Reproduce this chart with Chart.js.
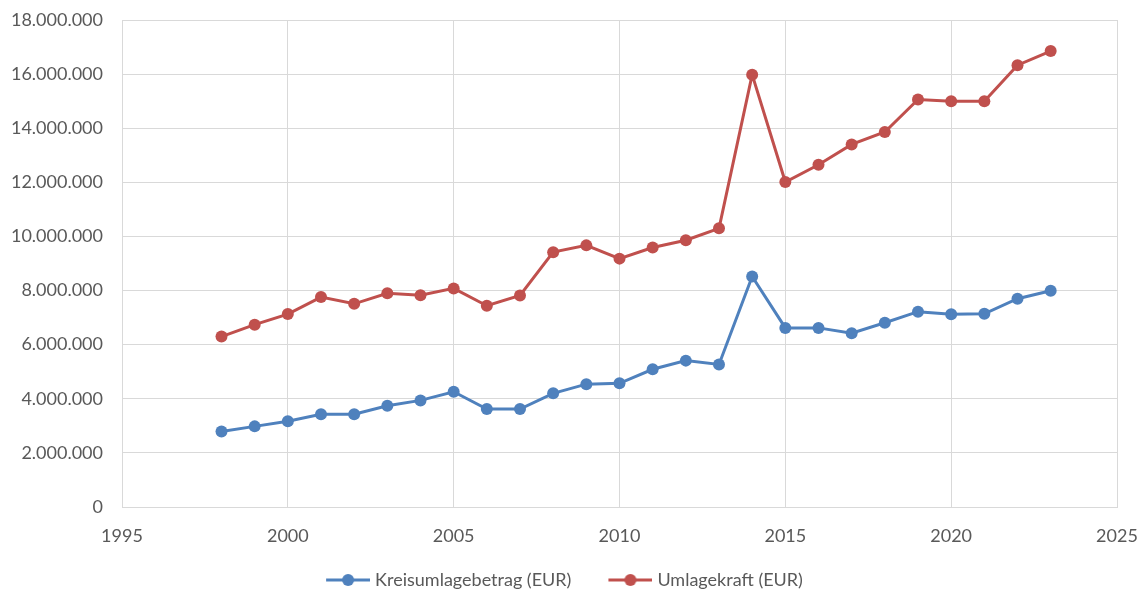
<!DOCTYPE html>
<html>
<head>
<meta charset="utf-8">
<script src="https://cdn.jsdelivr.net/npm/chart.js@4"></script>
<style>
  html, body { margin: 0; padding: 0; background: #fff; }
  #wrap { width: 1148px; height: 592px; }
</style>
</head>
<body>
<div id="wrap"><canvas id="chart"></canvas></div>
<script>
const years = [1998, 1999, 2000, 2001, 2002, 2003, 2004, 2005, 2006, 2007, 2008, 2009, 2010,
    2011, 2012, 2013, 2014, 2015, 2016, 2017, 2018, 2019, 2020, 2021, 2022, 2023];
const kreisumlage = [2790000, 2980000, 3170000, 3430000, 3430000, 3740000, 3940000, 4260000, 3620000, 3620000,
    4200000, 4540000, 4570000, 5090000, 5410000, 5270000, 8520000, 6620000, 6620000, 6420000,
    6810000, 7220000, 7120000, 7140000, 7700000, 7990000];
const umlagekraft = [6300000, 6740000, 7130000, 7760000, 7510000, 7900000, 7830000, 8080000, 7440000, 7820000,
    9420000, 9670000, 9180000, 9590000, 9860000, 10300000, 15980000, 12010000, 12650000, 13400000,
    13860000, 15060000, 15000000, 15000000, 16330000, 16850000];
const seriesNames = ["Kreisumlagebetrag (EUR)", "Umlagekraft (EUR)"];
const seriesColors = ["#4f81bd", "#c0504d"];

const FONT = "Lato, 'Open Sans', sans-serif";
const TEXT = "#595959";
const GRID = "#d9d9d9";

// legend marker: short line with a dot, some blank room on the left as item gap
function legendMarker(color) {
    const c = document.createElement("canvas");
    c.width = 60; c.height = 14;
    const ctx = c.getContext("2d");
    ctx.strokeStyle = color;
    ctx.lineWidth = 3;
    ctx.beginPath();
    ctx.moveTo(16, 7);
    ctx.lineTo(60, 7);
    ctx.stroke();
    ctx.fillStyle = color;
    ctx.beginPath();
    ctx.arc(38, 7, 6, 0, Math.PI * 2);
    ctx.fill();
    return c;
}

function germanNumber(v) {
    return String(Math.round(v)).replace(/\B(?=(\d{3})+(?!\d))/g, ".");
}

function toPoints(values) {
    return years.map((y, i) => ({ x: y, y: values[i] }));
}

const datasets = [kreisumlage, umlagekraft].map((values, i) => ({
    label: seriesNames[i],
    data: toPoints(values),
    borderColor: seriesColors[i],
    backgroundColor: seriesColors[i],
    borderWidth: 3,
    pointRadius: 6,
    pointHoverRadius: 6,
    pointBorderWidth: 0,
    pointStyle: "circle",
    tension: 0
}));

new Chart(document.getElementById("chart"), {
    type: "line",
    data: { datasets },
    options: {
        responsive: true,
        maintainAspectRatio: false,
        animation: false,
        layout: { padding: { top: 20, right: 31, left: 0, bottom: -7 } },
        plugins: {
            tooltip: { enabled: false },
            legend: {
                position: "bottom",
                labels: {
                    usePointStyle: true,
                    pointStyleWidth: 52,
                    padding: 25,
                    color: TEXT,
                    font: { family: FONT, size: 18 },
                    generateLabels: (chart) => chart.data.datasets.map((ds, i) => ({
                        text: ds.label,
                        fontColor: TEXT,
                        pointStyle: legendMarker(seriesColors[i]),
                        datasetIndex: i,
                        lineWidth: 0,
                        strokeStyle: "transparent",
                        fillStyle: seriesColors[i]
                    }))
                }
            }
        },
        scales: {
            x: {
                type: "linear",
                min: 1995,
                max: 2025,
                ticks: {
                    stepSize: 5,
                    color: TEXT,
                    padding: 18,
                    font: { family: FONT, size: 18 },
                    callback: (v) => String(v)
                },
                grid: { color: GRID, lineWidth: 1, drawTicks: false },
                border: { color: GRID, width: 1 },
                afterFit: (scale) => {
                    scale.height = 39;
                    scale.paddingLeft = 0;
                    scale.paddingRight = 0;
                }
            },
            y: {
                min: 0,
                max: 18000000,
                ticks: {
                    stepSize: 2000000,
                    color: TEXT,
                    padding: 19,
                    font: { family: FONT, size: 18 },
                    callback: (v) => germanNumber(v)
                },
                grid: { color: GRID, lineWidth: 1, drawTicks: false },
                border: { color: GRID, width: 1 },
                afterFit: (scale) => {
                    scale.width = 122;
                    scale.paddingTop = 0;
                    scale.paddingBottom = 0;
                }
            }
        }
    }
});
</script>
</body>
</html>
